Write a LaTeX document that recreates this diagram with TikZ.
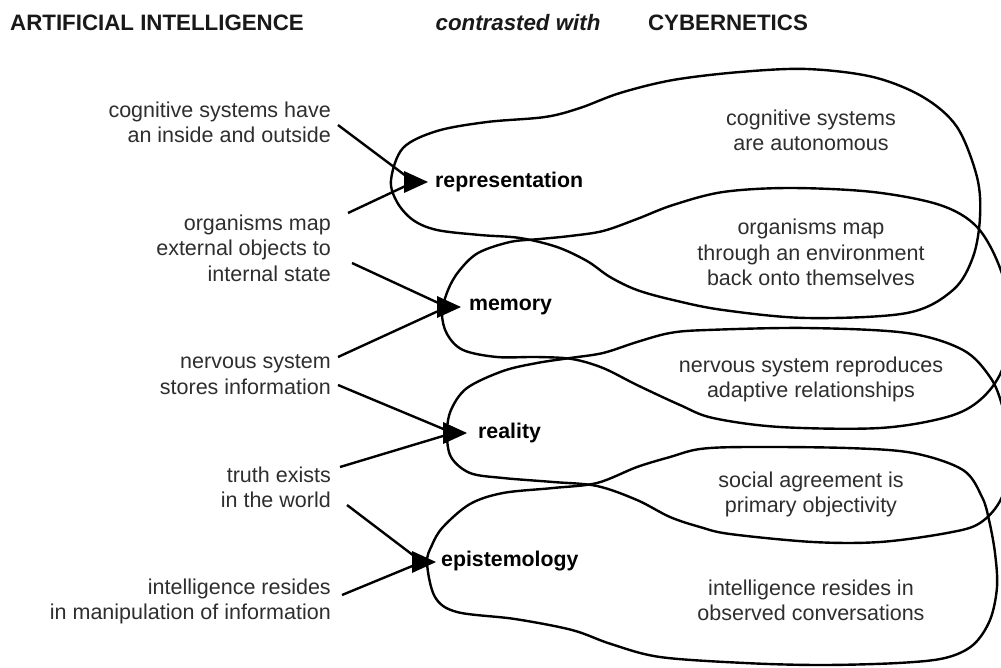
\documentclass[tikz,border=0pt]{standalone}
\usepackage{fontspec}
\setmainfont{Liberation Sans}
\begin{document}
\begin{tikzpicture}[x=1pt,y=-1pt,
  loopline/.style={line width=2.4pt, black},
  conn/.style={line width=2.4pt, black},
  txt/.style={font=\fontsize{21.5}{25.5}\selectfont, inner sep=0pt, text=black!82},
  concept/.style={font=\fontsize{21.3}{25}\selectfont\bfseries, inner sep=0pt, text=black, anchor=west},
  head/.style={font=\fontsize{22.3}{26}\selectfont\bfseries, inner sep=0pt, text=black!90, anchor=base}]
\useasboundingbox (0,0) rectangle (1001,667);
\fill[white] (0,0) rectangle (1001,667);

% headings
\node[head, anchor=base west] (hAI) at (10,30) {ARTIFICIAL INTELLIGENCE};
\node[head, font=\fontsize{22.3}{26}\selectfont\bfseries\itshape] (hCW) at (518,30) {contrasted with};
\node[head] (hCY) at (728,30) {CYBERNETICS};

% left texts
\node[txt, align=right, anchor=east] (L1) at (331,122.5) {cognitive systems have\\an inside and outside};
\node[txt, align=right, anchor=east] (L2) at (331,248) {organisms map\\external objects to\\internal state};
\node[txt, align=right, anchor=east] (L3) at (331,374.5) {nervous system\\stores information};
\node[txt, align=right, anchor=east] (L4) at (331,487.5) {truth exists\\in the world};
\node[txt, align=right, anchor=east] (L5) at (331,601.5) {intelligence resides\\in manipulation of information};

% right texts
\node[txt, align=center] (R1) at (811,130.5) {cognitive systems\\are autonomous};
\node[txt, align=center] (R2) at (811,252.5) {organisms map\\through an environment\\back onto themselves};
\node[txt, align=center] (R3) at (811,379.5) {nervous system reproduces\\adaptive relationships};
\node[txt, align=center] (R4) at (811,494.5) {social agreement is\\primary objectivity};
\node[txt, align=center] (R5) at (811,600.5) {intelligence resides in\\observed conversations};

% concepts
\node[concept] (cRep) at (435,182) {representation};
\node[concept] (cMem) at (469,307) {memory};
\node[concept] (cRea) at (478,433) {reality};
\node[concept] (cEpi) at (441,561) {epistemology};

% loops
\begin{scope}
\clip (0,0) rectangle (1001,667);
\draw[loopline] plot[smooth cycle, tension=0.55] coordinates {
 (391,180) (403,148) (437,131) (487,122) (545,117) (580,108) (620,93) (673,80)
 (740,72) (807,69) (873,77) (923,97) (957,127) (977,177) (980,217) (973,257)
 (953,290) (907,313) (807,318) (723,310) (673,300) (637,290) (610,277) (587,261)
 (557,247) (520,238) (480,235) (437,230) (413,220) (397,202)};
\draw[loopline] plot[smooth cycle, tension=0.55] coordinates {
 (442,313) (448,290) (459,271) (478,253) (510,242) (540,239) (570,236) (603,231)
 (637,219) (673,205) (723,192) (790,188) (873,192) (940,205) (977,227) (1000,268)
 (1012,320) (1002,370) (980,400) (947,417) (880,428) (780,427) (713,418) (680,405)
 (637,385) (603,368) (572,359) (537,357) (497,357) (463,350) (447,334)};
\draw[loopline] plot[smooth cycle, tension=0.55] coordinates {
 (447,433) (451,410) (467,388) (503,371) (537,363) (570,358) (603,353) (637,342)
 (670,333) (707,330) (807,328) (907,333) (963,350) (990,377) (1002,405) (1012,450)
 (1002,497) (980,523) (947,533) (880,542) (813,542) (730,534) (700,527) (670,517)
 (637,500) (597,486) (553,482) (503,478) (470,473) (451,457)};
\draw[loopline] plot[smooth cycle, tension=0.55] coordinates {
 (427,563) (432,545) (443,527) (470,504) (503,493) (553,488) (597,483) (637,467)
 (670,457) (700,449) (747,447) (847,448) (913,453) (963,470) (982,497) (989,520)
 (995,553) (997,587) (990,620) (973,645) (945,658) (898,663) (821,665) (745,663)
 (660,657) (611,644) (572,630) (515,619) (457,612) (435,597)};
\end{scope}

% arrow heads
\coordinate (tRep) at (428,182);
\coordinate (tMem) at (461,307);
\coordinate (tRea) at (467,433);
\coordinate (tEpi) at (436,562);
\foreach \t in {tRep,tMem,tRea,tEpi}{
  \fill (\t) -- ++(-24,-11) -- ++(0,22) -- cycle;
}

% connector start points
\coordinate (s1) at (338,125);
\coordinate (s2) at (348,213);
\coordinate (s3) at (352,263);
\coordinate (s4) at (338,357);
\coordinate (s5) at (338,385);
\coordinate (s6) at (340,467);
\coordinate (s7) at (347,505);
\coordinate (s8) at (342,595);

\draw[conn] (s1) -- ([xshift=-14pt]tRep);
\draw[conn] (s2) -- ([xshift=-14pt]tRep);
\draw[conn] (s3) -- ([xshift=-14pt]tMem);
\draw[conn] (s4) -- ([xshift=-14pt]tMem);
\draw[conn] (s5) -- ([xshift=-14pt]tRea);
\draw[conn] (s6) -- ([xshift=-14pt]tRea);
\draw[conn] (s7) -- ([xshift=-14pt]tEpi);
\draw[conn] (s8) -- ([xshift=-14pt]tEpi);
\end{tikzpicture}
\end{document}
